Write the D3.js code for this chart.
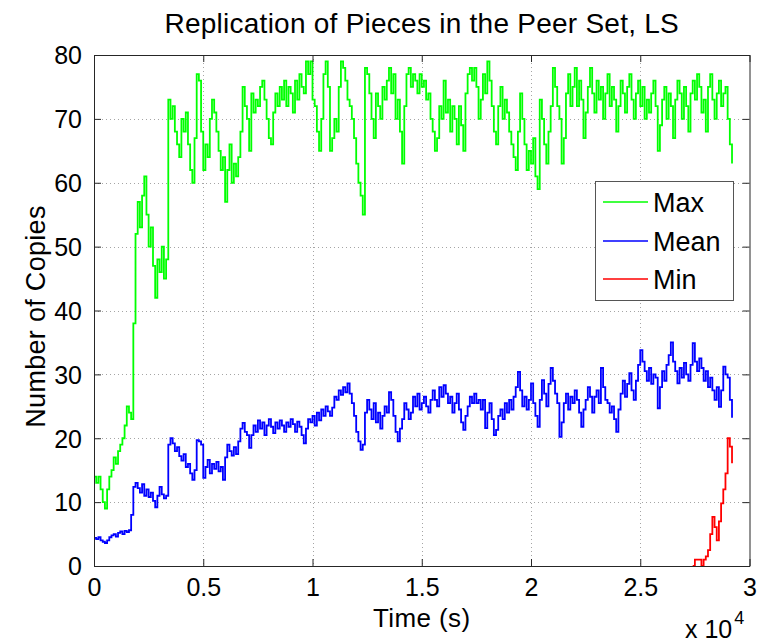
<!DOCTYPE html>
<html>
<head>
<meta charset="utf-8">
<script src="https://cdn.jsdelivr.net/npm/d3@7"></script>
<style>
  html, body { margin: 0; padding: 0; background: #fff; }
  svg { display: block; font-family: "Liberation Sans", Arial, Helvetica, sans-serif; }
</style>
</head>
<body>
<svg id="chart" width="767" height="644"></svg>
<script>
// ---------------- data ----------------
const sampleStep = 100; // seconds between samples
const xTicks = [0, 5000, 10000, 15000, 20000, 25000, 30000];
const xTickLabels = ["0", "0.5", "1", "1.5", "2", "2.5", "3"];
const yTicks = [0, 10, 20, 30, 40, 50, 60, 70, 80];
const seriesNames = ["Max", "Mean", "Min"];

const maxCopies = [14,13,14,12,10,9,12,14,15,17, 16,18,19,20,22,25,24,23,38,52,
  57,53,58,61,55,50,53,47,42,48, 46,50,45,48,73,70,72,68,66,64,
  70,68,71,66,62,60,67,77,76,68, 62,66,64,70,73,71,68,65,62,64,
  57,62,66,60,63,61,64,68,75,72, 70,65,74,71,73,72,75,76,73,70,
  67,66,71,74,72,75,73,76,72,75, 74,71,76,73,77,75,74,79,77,79,
  73,72,68,65,70,77,79,75,65,67, 70,68,75,79,78,76,73,72,70,67,
  63,60,58,55,78,77,74,70,67,74, 72,70,75,73,76,78,74,77,70,73,
  68,63,72,77,78,75,77,76,74,77, 75,76,73,74,70,68,65,67,72,70,
  76,71,73,68,72,70,66,72,69,65, 74,77,78,76,78,75,70,73,77,74,
  79,76,72,68,66,72,75,70,73,71, 68,66,64,62,68,74,70,66,62,65,
  63,67,61,59,73,70,66,63,68,72, 78,75,72,70,63,67,74,77,72,75,
  78,72,76,73,67,71,75,78,74,71, 76,73,75,70,74,77,72,75,73,68,
  72,76,74,71,75,77,73,70,74,76, 72,75,70,73,71,74,76,72,65,69,
  73,75,70,74,72,67,73,76,74,70, 75,72,68,74,76,73,77,75,71,73,
  68,75,77,73,70,74,76,72,74,75, 70,66,63];

const meanCopies = [4.4,4.2,4.5,4.0,3.8,3.6,4.0,4.5,4.8,5.0, 4.6,5.2,5.4,5.0,5.5,5.3,5.6,8.0,12.4,13.0,
  12.2,11.5,12.8,11.0,12.0,10.8,11.5,10.2,9.2,11.0, 12.4,11.2,10.6,11.0,19.0,20.0,19.2,18.0,18.6,17.2,
  16.5,17.5,15.5,16.0,14.5,13.5,15.0,19.7,19.5,19.0, 13.8,15.5,16.6,14.5,16.0,15.2,16.3,14.8,15.5,13.5,
  17.0,19.0,18.0,17.3,18.6,17.5,19.5,21.5,22.4,21.0, 20.5,18.5,20.5,22.0,21.0,22.8,21.5,22.5,20.5,22.0,
  23.0,21.8,20.8,22.5,21.5,22.8,22.0,21.0,22.5,21.8, 23.0,22.2,21.0,22.6,21.8,20.5,19.2,21.5,23.0,22.5,
  23.5,22.0,24.0,22.8,24.5,23.5,25.0,24.2,23.5,24.8, 26.5,26.0,27.5,26.8,28.0,27.2,28.6,27.0,25.5,23.5,
  21.0,19.5,18.2,19.0,24.0,26.0,24.5,23.0,25.5,22.5, 24.0,21.5,23.5,25.0,24.0,27.2,26.0,23.5,21.0,19.5,
  21.5,23.0,25.5,24.5,23.0,24.0,26.5,25.0,27.0,24.5, 25.5,26.5,25.0,24.0,26.0,27.5,26.0,25.0,28.0,26.5,
  28.3,27.0,25.5,26.5,24.0,25.5,27.0,24.5,22.5,21.3, 23.5,25.0,26.5,25.5,27.0,25.5,26.0,24.5,26.0,21.6,
  24.0,25.5,23.0,20.5,21.3,23.5,24.5,23.0,25.5,24.0, 26.0,24.5,26.5,28.0,30.4,27.5,25.0,26.5,24.5,26.0,
  28.6,25.5,23.5,21.8,26.0,29.1,27.0,25.0,28.5,31.0, 29.0,27.0,25.5,20.2,22.5,25.5,27.0,24.5,26.5,25.5,
  27.5,26.0,24.0,21.8,24.5,26.0,28.0,26.5,24.0,26.5, 27.5,25.5,31.0,28.0,26.0,25.5,24.0,25.0,23.0,21.0,
  24.5,27.0,29.0,26.5,28.5,30.2,27.5,26.0,29.0,31.5, 33.8,32.0,30.5,29.0,31.0,28.5,30.0,29.5,24.7,28.0,
  30.5,29.0,31.5,33.0,35.0,32.0,30.5,28.6,31.0,29.5, 31.8,30.0,29.0,31.5,34.9,32.0,30.5,32.5,31.0,29.0,
  30.5,28.0,29.5,27.5,26.0,28.0,24.9,27.5,31.2,30.0, 29.5,26.0,23.2];

const minStartIndex = 274;
const minCopies = [0,1,1,1,0,1,1.5,2.5,5,7.7, 6.1,4,7,9.8,12,14.5,20,18.7,16.1];

const seriesColors = ["#00ff00", "#0000ff", "#ff0000"];

// ---------------- layout ----------------
const svg = d3.select("#chart");
const plotL = 94, plotR = 749.5, plotT = 55, plotB = 566;

const x = d3.scaleLinear().domain([0, 30000]).range([plotL, plotR]);
const y = d3.scaleLinear().domain([0, 80]).range([plotB, plotT]);

const toPoints = (arr, start) => arr.map((v, i) => [(start + i) * sampleStep, v]);
const series = [
  toPoints(maxCopies, 0),
  toPoints(meanCopies, 0),
  toPoints(minCopies, minStartIndex)
];

// grid
const grid = svg.append("g").attr("stroke", "#808080").attr("stroke-width", 1)
  .attr("stroke-dasharray", "1,3").attr("opacity", 0.7);
grid.selectAll("line.gx").data(xTicks.slice(1, -1)).join("line")
  .attr("x1", d => Math.round(x(d)) + 0.5).attr("x2", d => Math.round(x(d)) + 0.5)
  .attr("y1", plotT).attr("y2", plotB);
grid.selectAll("line.gy").data(yTicks.slice(1, -1)).join("line")
  .attr("y1", d => Math.round(y(d)) + 0.5).attr("y2", d => Math.round(y(d)) + 0.5)
  .attr("x1", plotL).attr("x2", plotR);

// lines
const line = d3.line().curve(d3.curveStepAfter).x(d => x(d[0])).y(d => y(d[1]));
svg.append("clipPath").attr("id", "clip").append("rect")
  .attr("x", plotL).attr("y", plotT - 2).attr("width", plotR - plotL).attr("height", plotB - plotT + 2);
svg.append("g").attr("clip-path", "url(#clip)")
  .selectAll("path").data(series).join("path")
  .attr("d", line)
  .attr("fill", "none")
  .attr("stroke", (d, i) => seriesColors[i])
  .attr("stroke-width", 1.8)
  .attr("stroke-linejoin", "miter");

// axes (box with inward ticks on all sides)
const axisColor = "#262626";
const tickSize = 7;
const fontTick = 25;

const xAxisB = d3.axisBottom(x).tickValues(xTicks).tickFormat((d, i) => xTickLabels[i])
  .tickSizeInner(-tickSize).tickSizeOuter(0).tickPadding(12);
const gxb = svg.append("g").attr("transform", `translate(0,${plotB})`).call(xAxisB);
const xAxisT = d3.axisTop(x).tickValues(xTicks).tickFormat("")
  .tickSizeInner(-tickSize).tickSizeOuter(0);
const gxt = svg.append("g").attr("transform", `translate(0,${plotT})`).call(xAxisT);
const yAxisL = d3.axisLeft(y).tickValues(yTicks).tickFormat(d3.format("d"))
  .tickSizeInner(-tickSize).tickSizeOuter(0).tickPadding(12);
const gyl = svg.append("g").attr("transform", `translate(${plotL},0)`).call(yAxisL);
const yAxisR = d3.axisRight(y).tickValues(yTicks).tickFormat("")
  .tickSizeInner(-tickSize).tickSizeOuter(0);
const gyr = svg.append("g").attr("transform", `translate(${plotR},0)`).call(yAxisR);

[gxb, gxt, gyl, gyr].forEach(g => {
  g.select(".domain").attr("stroke", axisColor).attr("stroke-width", 1);
  g.selectAll(".tick line").attr("stroke", axisColor).attr("stroke-width", 1);
  g.selectAll(".tick text").attr("fill", "#000")
    .style("font-size", fontTick + "px")
    .style("font-family", "'Liberation Sans', Arial, Helvetica, sans-serif");
});
gxb.selectAll(".tick text").attr("dy", "0.72em");
gyl.selectAll(".tick text").attr("dy", "0.35em");

// title & labels
svg.append("text").attr("x", (plotL + plotR) / 2).attr("y", 33)
  .attr("text-anchor", "middle").style("font-size", "28px").style("letter-spacing", "0.25px")
  .text("Replication of Pieces in the Peer Set, LS");
svg.append("text").attr("x", (plotL + plotR) / 2).attr("y", 627)
  .attr("text-anchor", "middle").style("font-size", "26px").style("letter-spacing", "0.4px")
  .text("Time (s)");
svg.append("text").attr("transform", `translate(45,${(plotT + plotB) / 2 + 6}) rotate(-90)`)
  .attr("text-anchor", "middle").style("font-size", "27px").style("letter-spacing", "0.3px")
  .text("Number of Copies");
const mult = svg.append("text").attr("x", 685).attr("y", 638).style("font-size", "25px");
mult.append("tspan").text("x 10");
mult.append("tspan").attr("dx", 2).attr("dy", -14).style("font-size", "18px").text("4");

// legend
const lg = svg.append("g");
lg.append("rect").attr("x", 595.5).attr("y", 181.5).attr("width", 138).attr("height", 119)
  .attr("fill", "#fff").attr("stroke", "#555").attr("stroke-width", 1);
const legendRows = [202, 241, 279];
seriesNames.forEach((name, i) => {
  lg.append("line").attr("x1", 603).attr("x2", 648)
    .attr("y1", legendRows[i]).attr("y2", legendRows[i])
    .attr("stroke", seriesColors[i]).attr("stroke-width", 1.5);
  lg.append("text").attr("x", 653).attr("y", legendRows[i]).attr("dy", "0.36em")
    .style("font-size", "27px").text(name);
});
</script>
</body>
</html>
